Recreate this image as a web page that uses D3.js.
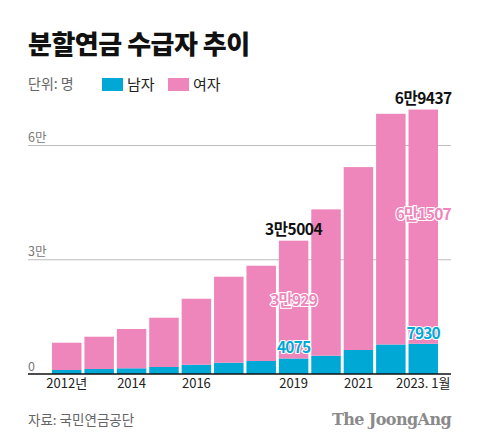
<!DOCTYPE html>
<html><head><meta charset="utf-8">
<script src="https://cdn.jsdelivr.net/npm/d3@7"></script>
<style>
html,body{margin:0;padding:0;background:#fff;}
svg{display:block;font-family:"Noto Sans CJK KR","Noto Sans",sans-serif;}
</style></head>
<body>
<svg id="chart" width="480" height="446"></svg>
<script>
const categories = ["2012","2013","2014","2015","2016","2017","2018","2019","2020","2021","2022","2023.1"];
const xTickLabels = {"2012":"2012년","2014":"2014","2016":"2016","2019":"2019","2021":"2021","2023.1":"2023. 1월"};
const maleValues   = [1050, 1310, 1500, 1840, 2440, 2970, 3410, 4075, 4800, 6300, 7750, 7930];
const femaleValues = [7165, 8480, 10310, 12940, 17320, 22570, 25020, 30929, 38430, 48030, 60570, 61507];
const yTicks = [0, 30000, 60000];
const yTickLabels = ["0", "3만", "6만"];
const seriesNames = ["남자", "여자"];
const colors = ["#00a8d6", "#ee85bb"];
const annotations = [
  {cat:"2019", text:"3만5004", kind:"total"},
  {cat:"2023.1", text:"6만9437", kind:"total"},
  {cat:"2019", text:"3만929", kind:"female", value:19500},
  {cat:"2023.1", text:"6만1507", kind:"female", value:42000},
  {cat:"2019", text:"4075", kind:"male"},
  {cat:"2023.1", text:"7930", kind:"male"}
];

const svg = d3.select("#chart");
const left = 28, right = 451, plotTop = 100, base = 374;

const x = d3.scaleBand().domain(categories).range([52, 438]).paddingInner(0.09).paddingOuter(0);
const y = d3.scaleLinear().domain([0, 60000]).range([base, 145.5]);

// Title
svg.append("text").attr("x", left).attr("y", 54).text("분할연금 수급자 추이")
  .attr("font-size", 26).attr("font-weight", 900).attr("fill", "#111").attr("letter-spacing", -0.5);

// Unit + legend
svg.append("text").attr("x", left).attr("y", 89).text("단위: 명")
  .attr("font-size", 14).attr("fill", "#666");
const leg = svg.append("g");
[[102, 0], [168, 1]].forEach(([lx, i]) => {
  leg.append("rect").attr("x", lx).attr("y", 78).attr("width", 21).attr("height", 13).attr("fill", colors[i]);
  leg.append("text").attr("x", lx + 25).attr("y", 90).text(seriesNames[i])
    .attr("font-size", 15).attr("fill", "#222");
});

// Gridlines + y labels
yTicks.forEach((t, i) => {
  if (t > 0) {
    svg.append("line").attr("x1", left).attr("x2", right).attr("y1", y(t)).attr("y2", y(t))
      .attr("stroke", "#bdbdbd").attr("stroke-width", 1.2);
  }
  svg.append("text").attr("x", left).attr("y", y(t) - (t > 0 ? 4 : 3)).text(yTickLabels[i])
    .attr("font-size", 12.5).attr("fill", "#777");
});

// Stacked bars
const data = categories.map((c, i) => ({cat: c, male: maleValues[i], female: femaleValues[i]}));
const stack = d3.stack().keys(["male", "female"])(data);
svg.append("g").selectAll("g").data(stack).join("g")
  .attr("fill", (d, i) => colors[i])
  .selectAll("rect").data(d => d).join("rect")
  .attr("x", d => x(d.data.cat))
  .attr("width", x.bandwidth())
  .attr("y", d => y(d[1]))
  .attr("height", d => y(d[0]) - y(d[1]));

// Baseline axis
svg.append("line").attr("x1", left).attr("x2", right).attr("y1", base).attr("y2", base)
  .attr("stroke", "#111").attr("stroke-width", 1.3);

// X axis labels
const xAxis = d3.axisBottom(x).tickValues(Object.keys(xTickLabels))
  .tickFormat(d => xTickLabels[d]).tickSize(0).tickPadding(0);
const gx = svg.append("g").attr("transform", `translate(0,${base})`).call(xAxis);
gx.select(".domain").remove();
gx.selectAll("text").attr("font-size", 13).attr("fill", "#222")
  .attr("font-family", "\"Noto Sans CJK KR\",sans-serif").attr("dy", 0).attr("y", 14);

// Annotations
annotations.forEach(a => {
  const i = categories.indexOf(a.cat);
  const cx = x(a.cat) + x.bandwidth() / 2;
  if (a.kind === "total") {
    svg.append("text").attr("x", cx).attr("y", y(maleValues[i] + femaleValues[i]) - 6)
      .attr("text-anchor", "middle").text(a.text)
      .attr("font-size", 15.5).attr("font-weight", 700).attr("fill", "#111").attr("letter-spacing", -0.5);
  } else if (a.kind === "female") {
    svg.append("text").attr("x", cx).attr("y", y(a.value) + 6)
      .attr("text-anchor", "middle").text(a.text)
      .attr("font-size", 15.5).attr("font-weight", 700).attr("fill", colors[1])
      .attr("stroke", "#fff").attr("stroke-width", 2.2).attr("paint-order", "stroke")
      .attr("letter-spacing", -0.8);
  } else {
    svg.append("text").attr("x", cx).attr("y", y(maleValues[i]) - 5)
      .attr("text-anchor", "middle").text(a.text)
      .attr("font-size", 15.5).attr("font-weight", 700).attr("fill", colors[0])
      .attr("stroke", "#fff").attr("stroke-width", 2.2).attr("paint-order", "stroke")
      .attr("letter-spacing", -0.8);
  }
});

// Footer
svg.append("text").attr("x", left).attr("y", 425).text("자료: 국민연금공단")
  .attr("font-size", 13.5).attr("fill", "#666");
svg.append("text").attr("x", 451).attr("y", 425).attr("text-anchor", "end").text("The JoongAng")
  .attr("font-family", "\"DejaVu Serif\",\"Liberation Serif\",serif").attr("font-weight", 700)
  .attr("font-size", 16).attr("fill", "#8a8a8a").attr("letter-spacing", -0.6);
</script>
</body></html>
